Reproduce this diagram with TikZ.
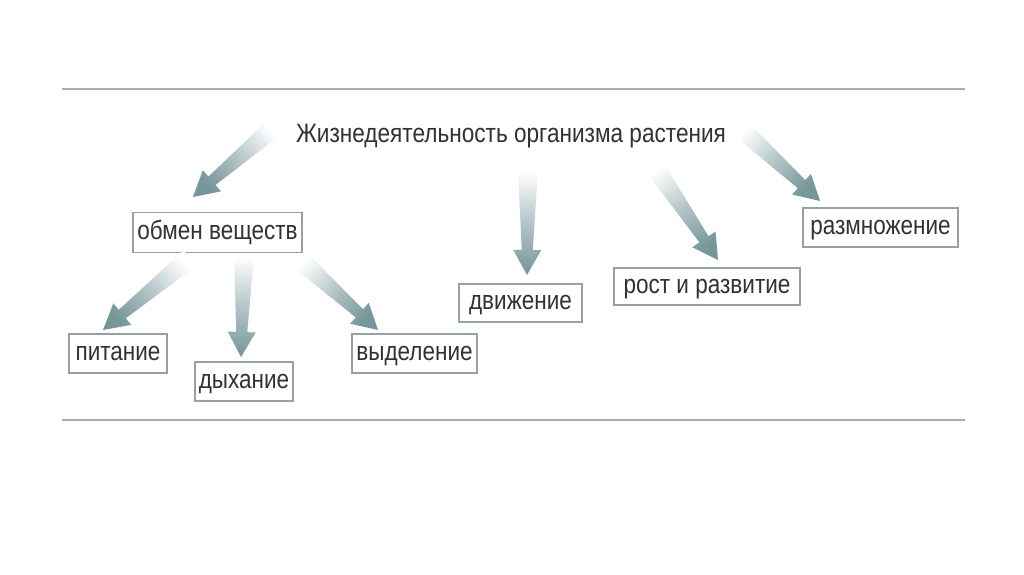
\documentclass[tikz,border=0pt]{standalone}
\usepackage{fontspec}
\setmainfont{Liberation Sans}[FakeStretch=0.85]
\usetikzlibrary{calc}
\definecolor{arrowc}{RGB}{118,150,154}
\definecolor{boxc}{RGB}{150,162,162}
\definecolor{linec}{RGB}{160,178,178}
\definecolor{txtc}{RGB}{50,50,50}
\newcommand\fatarrow[2]{%
  \path let \p1=($(#2)-(#1)$), \n1={atan2(\y1,\x1)+90} in \pgfextra{\xdef\myshadeang{\n1}};
  \path ($(#2)!25pt!(#1)$) coordinate (N);
  \shade[top color=white, bottom color=arrowc, middle color=arrowc!55, shading angle=\myshadeang]
    ($(#1)!10pt!90:(#2)$) -- ($(N)!5.5pt!90:(#2)$) -- ($(N)!14pt!90:(#2)$) -- (#2)
    -- ($(N)!14pt!-90:(#2)$) -- ($(N)!5.5pt!-90:(#2)$) -- ($(#1)!10pt!-90:(#2)$) -- cycle;
}
\tikzset{
  box/.style={draw=boxc, line width=1.3pt, fill=white, text=txtc, inner sep=0pt,
    text height=19pt, text depth=6pt,
    font=\fontsize{26.5}{28}\selectfont},
  sep/.style={draw=linec, line width=2.2pt},
}
\begin{document}
\begin{tikzpicture}[x=1pt,y=-1pt]
\useasboundingbox[fill=white] (0,0) rectangle (1024,574);
\coordinate (l1a) at (62,89); \coordinate (l1b) at (965,89);
\coordinate (l2a) at (62,420); \coordinate (l2b) at (965,420);
\draw[sep] (l1a) -- (l1b);
\draw[sep] (l2a) -- (l2b);

\node[text=txtc, font=\fontsize{26.6}{28}\selectfont, inner sep=0pt, anchor=base] (title) at (511,142) {Жизнедеятельность организма растения};

\node[box, minimum width=169, minimum height=40] (obmen) at (217.5,232.5) {обмен веществ};
\node[box, minimum width=98, minimum height=39] (pit) at (118,353.5) {питание};
\node[box, minimum width=98, minimum height=39] (dyh) at (244,381.5) {дыхание};
\node[box, minimum width=125, minimum height=39] (vyd) at (414.5,353.5) {выделение};
\node[box, minimum width=123, minimum height=38] (dvi) at (520.5,303) {движение};
\node[box, minimum width=186, minimum height=37] (rost) at (707,286.5) {рост и развитие};
\node[box, minimum width=155, minimum height=39] (razm) at (880.5,227.5) {размножение};

\coordinate (a1t) at (277,125); \coordinate (a1h) at (193,197);
\coordinate (a2t) at (190,258); \coordinate (a2h) at (103,330);
\coordinate (a3t) at (244,256); \coordinate (a3h) at (241,357);
\coordinate (a4t) at (298,258); \coordinate (a4h) at (378,330);
\coordinate (a5t) at (528,170); \coordinate (a5h) at (527,275);
\coordinate (a6t) at (652,163); \coordinate (a6h) at (718,260);
\coordinate (a7t) at (738,126); \coordinate (a7h) at (820,201);
\fatarrow{a1t}{a1h}
\fatarrow{a2t}{a2h}
\fatarrow{a3t}{a3h}
\fatarrow{a4t}{a4h}
\fatarrow{a5t}{a5h}
\fatarrow{a6t}{a6h}
\fatarrow{a7t}{a7h}
\end{tikzpicture}
\end{document}
